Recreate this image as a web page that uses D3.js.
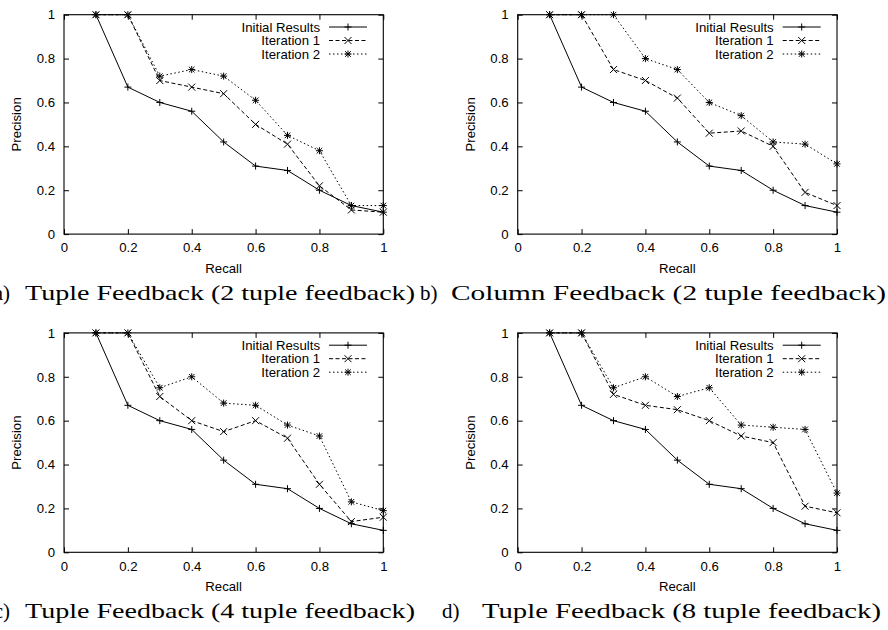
<!DOCTYPE html>
<html>
<head>
<meta charset="utf-8">
<script src="https://cdn.jsdelivr.net/npm/d3@7"></script>
<style>
  html, body { margin: 0; padding: 0; background: #fff; }
  svg { display: block; }
</style>
</head>
<body>
<svg id="chart" width="888" height="630"></svg>
<script>
// ---------------- DATA ----------------
const recall = [0.1, 0.2, 0.3, 0.4, 0.5, 0.6, 0.7, 0.8, 0.9, 1.0];
const initialResults = [1, 0.67, 0.60, 0.56, 0.42, 0.31, 0.29, 0.20, 0.13, 0.10];

const iteration1A = [1, 1, 0.70, 0.67, 0.64, 0.50, 0.41, 0.22, 0.11, 0.10];
const iteration2A = [1, 1, 0.72, 0.75, 0.72, 0.61, 0.45, 0.38, 0.13, 0.13];

const iteration1B = [1, 1, 0.75, 0.70, 0.62, 0.46, 0.47, 0.40, 0.19, 0.13];
const iteration2B = [1, 1, 1.00, 0.80, 0.75, 0.60, 0.54, 0.42, 0.41, 0.32];

const iteration1C = [1, 1, 0.71, 0.60, 0.55, 0.60, 0.52, 0.31, 0.14, 0.16];
const iteration2C = [1, 1, 0.75, 0.80, 0.68, 0.67, 0.58, 0.53, 0.23, 0.19];

const iteration1D = [1, 1, 0.72, 0.67, 0.65, 0.60, 0.53, 0.50, 0.21, 0.18];
const iteration2D = [1, 1, 0.75, 0.80, 0.71, 0.75, 0.58, 0.57, 0.56, 0.27];

const seriesNames = ["Initial Results", "Iteration 1", "Iteration 2"];
const xTicks = [0, 0.2, 0.4, 0.6, 0.8, 1];
const yTicks = [0, 0.2, 0.4, 0.6, 0.8, 1];
const xTitle = "Recall";
const yTitle = "Precision";
const captionLabels = ["a)", "b)", "c)", "d)"];
const captionTexts = [
  "Tuple Feedback (2 tuple feedback)",
  "Column Feedback (2 tuple feedback)",
  "Tuple Feedback (4 tuple feedback)",
  "Tuple Feedback (8 tuple feedback)"
];
const panelSeries = [
  [initialResults, iteration1A, iteration2A],
  [initialResults, iteration1B, iteration2B],
  [initialResults, iteration1C, iteration2C],
  [initialResults, iteration1D, iteration2D]
];

// ---------------- LAYOUT / STYLE ----------------
const plotW = 319.3, plotH = 219.4;
const layout = [
  { left: 64,    top: 14.7,  capY: 300, labX: 10,  labAnchor: "end",   mainX: 25,  mainW: 390 },
  { left: 517.7, top: 14.7,  capY: 300, labX: 420, labAnchor: "start", mainX: 451, mainW: 435 },
  { left: 64,    top: 332.9, capY: 618, labX: 10,  labAnchor: "end",   mainX: 25,  mainW: 390 },
  { left: 517.7, top: 332.9, capY: 618, labX: 442, labAnchor: "start", mainX: 482, mainW: 399 }
];
const dashes = [null, "4,2.5", "1.5,2.5"];
const markerKinds = ["plus", "cross", "star"];
const sansFont = "'Liberation Sans', Arial, Helvetica, sans-serif";
const serifFont = "'Liberation Serif', 'Times New Roman', serif";
const fs = 13.2;
const mr = 3.5; // marker half-size

function markerPath(kind, cx, cy) {
  const p = d3.path();
  if (kind === "plus" || kind === "star") {
    p.moveTo(cx - mr, cy); p.lineTo(cx + mr, cy);
    p.moveTo(cx, cy - mr); p.lineTo(cx, cy + mr);
  }
  if (kind === "cross" || kind === "star") {
    const d = kind === "star" ? mr * 0.8 : mr;
    p.moveTo(cx - d, cy - d); p.lineTo(cx + d, cy + d);
    p.moveTo(cx - d, cy + d); p.lineTo(cx + d, cy - d);
  }
  return p.toString();
}

const svg = d3.select("#chart");
svg.append("rect").attr("width", 888).attr("height", 630).attr("fill", "#fff");

layout.forEach((L, pi) => {
  const g = svg.append("g").attr("transform", `translate(${L.left},${L.top})`);
  const x = d3.scaleLinear().domain([0, 1]).range([0, plotW]);
  const y = d3.scaleLinear().domain([0, 1]).range([plotH, 0]);

  // axes with inward ticks
  const axB = g.append("g").attr("transform", `translate(0,${plotH})`)
    .call(d3.axisBottom(x).tickValues(xTicks).tickFormat(d3.format("")).tickSizeInner(-5).tickSizeOuter(0).tickPadding(9));
  const axL = g.append("g")
    .call(d3.axisLeft(y).tickValues(yTicks).tickFormat(d3.format("")).tickSizeInner(-5).tickSizeOuter(0).tickPadding(9));
  const axT = g.append("g")
    .call(d3.axisTop(x).tickValues(xTicks).tickFormat("").tickSizeInner(-5).tickSizeOuter(0));
  const axR = g.append("g").attr("transform", `translate(${plotW},0)`)
    .call(d3.axisRight(y).tickValues(yTicks).tickFormat("").tickSizeInner(-5).tickSizeOuter(0));
  [axB, axL, axT, axR].forEach(a => {
    a.select(".domain").remove();
    a.selectAll("line").attr("stroke", "#000").attr("stroke-width", 1);
    a.selectAll("text").attr("font-family", sansFont).attr("font-size", fs).attr("fill", "#000");
  });

  // frame
  g.append("rect").attr("x", 0).attr("y", 0).attr("width", plotW).attr("height", plotH)
    .attr("fill", "none").attr("stroke", "#000").attr("stroke-width", 1.1);

  // series
  const line = d3.line().x((d, i) => x(recall[i])).y(d => y(d));
  panelSeries[pi].forEach((vals, si) => {
    const path = g.append("path").datum(vals).attr("d", line)
      .attr("fill", "none").attr("stroke", "#000").attr("stroke-width", 1);
    if (dashes[si]) path.attr("stroke-dasharray", dashes[si]);
    g.append("g").selectAll("path").data(vals).join("path")
      .attr("d", (d, i) => markerPath(markerKinds[si], x(recall[i]), y(d)))
      .attr("stroke", "#000").attr("stroke-width", 1).attr("fill", "none");
  });

  // legend
  const leg = g.append("g");
  seriesNames.forEach((name, si) => {
    const cy = 12.3 + si * 13.5;
    leg.append("text").attr("x", plotW - 63.3).attr("y", cy).attr("dy", "0.35em")
      .attr("text-anchor", "end").attr("font-family", sansFont).attr("font-size", fs).text(name);
    const ln = leg.append("line").attr("x1", plotW - 54.3).attr("x2", plotW - 16.3)
      .attr("y1", cy).attr("y2", cy).attr("stroke", "#000").attr("stroke-width", 1);
    if (dashes[si]) ln.attr("stroke-dasharray", dashes[si]);
    leg.append("path").attr("d", markerPath(markerKinds[si], plotW - 35.3, cy))
      .attr("stroke", "#000").attr("stroke-width", 1).attr("fill", "none");
  });

  // axis titles
  g.append("text").attr("x", plotW / 2).attr("y", plotH + 38.5).attr("text-anchor", "middle")
    .attr("font-family", sansFont).attr("font-size", fs).text(xTitle);
  g.append("text").attr("transform", `translate(-47.3,${plotH / 2}) rotate(-90)`)
    .attr("dy", "0.35em").attr("text-anchor", "middle")
    .attr("font-family", sansFont).attr("font-size", fs).text(yTitle);

  // caption
  svg.append("text").attr("x", L.labX).attr("y", L.capY).attr("text-anchor", L.labAnchor)
    .attr("font-family", serifFont).attr("font-size", 21).text(captionLabels[pi]);
  svg.append("text").attr("x", L.mainX).attr("y", L.capY)
    .attr("font-family", serifFont).attr("font-size", 21)
    .attr("textLength", L.mainW).attr("lengthAdjust", "spacingAndGlyphs")
    .text(captionTexts[pi]);
});
</script>
</body>
</html>
